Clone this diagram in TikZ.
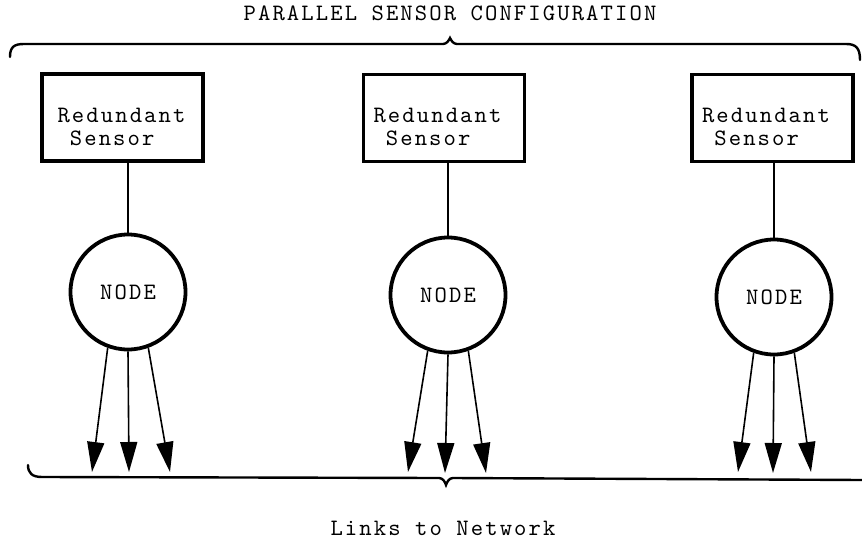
\documentclass[tikz,border=0pt]{standalone}
\usepackage{fontspec}
\usetikzlibrary{arrows.meta}
\newfontfamily\typewriterfamily{lmmono10-regular.otf}[LetterSpace=9]
\newcommand{\typewriter}{\typewriterfamily\fontsize{23.5}{23}\selectfont}
\begin{document}
\begin{tikzpicture}[x=1pt,y=-1pt,
  every node/.style={font=\typewriter},
  sensorbox/.style={draw, line width=3.8pt, minimum width=161pt, minimum height=87pt, inner sep=0pt},
  sensortext/.style={align=left, inner sep=0pt},
  netnode/.style={draw, circle, line width=3.8pt, minimum size=115pt, inner sep=0pt},
  link/.style={line width=1.5pt},
  outlink/.style={line width=1.6pt, -{Triangle[length=30pt,width=17pt]}},
  bracepath/.style={line width=2.4pt, line cap=round},
  label/.style={inner sep=0pt, anchor=base}]
\useasboundingbox (0,0) rectangle (862,543);
% title and caption
\node[label] (title) at (450,21) {PARALLEL SENSOR CONFIGURATION};
\node[label] (caption) at (443,535) {Links to Network};
% braces
\draw[bracepath] (10,57) .. controls (10,47) and (14,44) .. (24,44) -- (443,44)
  .. controls (447,44) and (449,40) .. (450,38) .. controls (451,40) and (453,44) .. (457,44)
  -- (846,44) .. controls (856,44) and (860,48) .. (860,60);
\draw[bracepath] (28,465) .. controls (28,473) and (32,477) .. (42,477) -- (439,478)
  .. controls (443,478) and (445,482) .. (446,485) .. controls (447,482) and (449,478) .. (453,478)
  -- (862,480);
% sensors
\node[sensorbox] (s1) at (122.5,117.5) {};
\node[sensorbox] (s2) at (444,118) {};
\node[sensorbox] (s3) at (772.5,118) {};
\node[sensortext] (l1) at (121.5,126.5) {Redundant\\\phantom{R}Sensor};
\node[sensortext] (l2) at (437.5,126.5) {Redundant\\\phantom{R}Sensor};
\node[sensortext] (l3) at (766,126.5) {Redundant\\\phantom{R}Sensor};
% nodes
\node[netnode] (c1) at (128,292) {NODE};
\node[netnode] (c2) at (448,295) {NODE};
\node[netnode] (c3) at (774,297) {NODE};
% sensor to node links
\draw[link] (c1 |- s1.south) -- (c1.north);
\draw[link] (c2 |- s2.south) -- (c2.north);
\draw[link] (c3 |- s3.south) -- (c3.north);
% arrow tips
\coordinate (t11) at (92,472);
\coordinate (t12) at (129,472);
\coordinate (t13) at (170,472);
\coordinate (t21) at (408,472);
\coordinate (t22) at (445,473);
\coordinate (t23) at (486,473);
\coordinate (t31) at (738,472);
\coordinate (t32) at (773,473);
\coordinate (t33) at (811,472);
\draw[outlink] (c1.250) -- (t11);
\draw[outlink] (c1.270) -- (t12);
\draw[outlink] (c1.290) -- (t13);
\draw[outlink] (c2.250) -- (t21);
\draw[outlink] (c2.270) -- (t22);
\draw[outlink] (c2.290) -- (t23);
\draw[outlink] (c3.250) -- (t31);
\draw[outlink] (c3.270) -- (t32);
\draw[outlink] (c3.290) -- (t33);
\end{tikzpicture}
\end{document}
